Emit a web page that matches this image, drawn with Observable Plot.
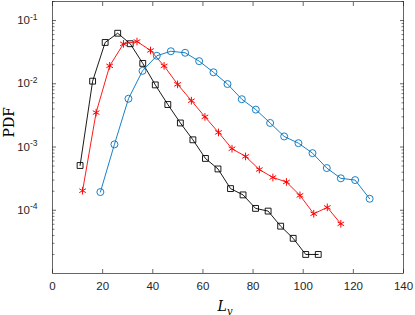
<!DOCTYPE html>
<html><head><meta charset="utf-8">
<script src="https://cdn.jsdelivr.net/npm/d3@7"></script>
<script src="https://cdn.jsdelivr.net/npm/@observablehq/plot@0.6"></script>
<style>body{margin:0;background:#fff}</style>
</head><body><div id="chart"></div>
<script>
// Series: black squares
const blackX = [11,16,21,26,31,36,41,46,51,56,61,66,71,76,81,86,91,96,101,106];
const blackY = [5.1e-4,0.011,0.045,0.063,0.043,0.021,0.0096,0.0047,0.0024,0.0013,6.6e-4,4.5e-4,2.2e-4,1.75e-4,1.07e-4,9.7e-5,5.6e-5,3.6e-5,2.0e-5,2.0e-5];
// Series: red asterisks
const redX = [12,17.4,22.8,28.3,33.7,39.1,44.5,49.9,55.4,60.8,66.2,71.6,77.0,82.5,87.9,93.3,98.7,104.2,109.6,115];
const redY = [2.04e-4,3.5e-3,0.0192,0.0428,0.0466,0.0336,0.0192,0.0098,0.0054,0.0030,0.0017,9.4e-4,7.1e-4,4.4e-4,3.3e-4,2.8e-4,1.72e-4,8.8e-5,1.11e-4,6.1e-5];
// Series: blue circles
const blueX = [19.1,24.7,30.3,35.9,41.6,47.2,52.9,58.5,64.2,69.8,75.5,81.1,86.8,92.4,98.1,103.7,109.4,115.0,120.7,126.5];
const blueY = [1.94e-4,1.1e-3,5.8e-3,0.016,0.0277,0.0327,0.0309,0.0228,0.0152,0.0099,0.0057,0.0039,0.0024,0.00147,0.00115,8.0e-4,4.65e-4,3.2e-4,3.0e-4,1.52e-4];
// Ticks
const xTicks = [0,20,40,60,80,100,120,140];
const yMajor = [1e-1,1e-2,1e-3,1e-4];
const yExp = [-1,-2,-3,-4];
const xLabel = "L";
const xLabelSub = "y";
const yLabel = "PDF";

const zip = (xs, ys) => xs.map((x, i) => ({x, y: ys[i]}));
const black = zip(blackX, blackY);
const red = zip(redX, redY);
const blue = zip(blueX, blueY);

const yMinor = [];
for (let e = -5; e <= -1; e++) for (let k = 2; k <= 9; k++) { const v = k * Math.pow(10, e); if (v <= 0.2) yMinor.push(v); }

const axisColor = "#262626";
const cBlack = "#000000", cRed = "#FF0000", cBlue = "#0072BD";
const serif = "'DejaVu Serif', 'Liberation Serif', serif";

const plot = Plot.plot({
  width: 415, height: 315,
  marginLeft: 52, marginRight: 12, marginTop: 1, marginBottom: 42,
  style: {fontFamily: "'Liberation Sans', Arial, sans-serif", fontSize: "11.5px", background: "#fff", color: axisColor},
  x: {domain: [0, 140]},
  y: {type: "log", domain: [1e-5, 0.2]},
  marks: [
    Plot.frame({stroke: axisColor, strokeWidth: 0.7}),
    Plot.axisX({anchor: "bottom", ticks: xTicks, tickSize: 4, dy: -4, tickFormat: () => "", label: null, strokeWidth: 0.7}),
    Plot.axisX({anchor: "top", ticks: xTicks, tickSize: 4, dy: 4, tickFormat: () => "", label: null, strokeWidth: 0.7}),
    Plot.axisX({anchor: "bottom", ticks: xTicks, tickSize: 0, tickPadding: 8, label: null, fill: axisColor}),
    Plot.axisY({anchor: "left", ticks: yMajor, tickSize: 4, dx: 4, tickFormat: () => "", label: null, strokeWidth: 0.7}),
    Plot.axisY({anchor: "left", ticks: yMinor, tickSize: 2.5, dx: 2.5, tickFormat: () => "", label: null, strokeWidth: 0.6}),
    Plot.axisY({anchor: "right", ticks: yMajor, tickSize: 4, dx: -4, tickFormat: () => "", label: null, strokeWidth: 0.7}),
    Plot.axisY({anchor: "right", ticks: yMinor, tickSize: 2.5, dx: -2.5, tickFormat: () => "", label: null, strokeWidth: 0.6}),
    Plot.axisY({anchor: "left", ticks: yMajor, tickSize: 0, tickPadding: 15, label: null, fill: axisColor,
      tickFormat: d => "10^" + yExp[yMajor.indexOf(d)]}),
    Plot.line(black, {x: "x", y: "y", stroke: cBlack, strokeWidth: 0.9}),
    Plot.dot(black, {x: "x", y: "y", symbol: "square", r: 3.3, stroke: cBlack, fill: "none", strokeWidth: 0.9}),
    Plot.line(red, {x: "x", y: "y", stroke: cRed, strokeWidth: 0.9}),
    Plot.dot(red, {x: "x", y: "y", symbol: "asterisk", r: 3.6, stroke: cRed, fill: "none", strokeWidth: 1}),
    Plot.line(blue, {x: "x", y: "y", stroke: cBlue, strokeWidth: 0.9}),
    Plot.dot(blue, {x: "x", y: "y", symbol: "circle", r: 3.5, stroke: cBlue, fill: "none", strokeWidth: 0.9}),
    Plot.text([xLabel], {frameAnchor: "bottom", dy: 37, dx: -3, text: d => d, fontFamily: serif, fontSize: 14, fontStyle: "italic", fill: "#000"}),
    Plot.text([yLabel], {frameAnchor: "left", dx: -43, rotate: -90, text: d => d, fontFamily: serif, fontSize: 14, fill: "#000"})
  ]
});
document.getElementById("chart").appendChild(plot);

const ns = "http://www.w3.org/2000/svg";
Array.from(plot.querySelectorAll("text")).forEach(t => {
  const s = t.textContent;
  if (s.indexOf("^") >= 0) {
    const parts = s.split("^");
    while (t.firstChild) t.removeChild(t.firstChild);
    const t1 = document.createElementNS(ns, "tspan"); t1.textContent = parts[0];
    const t2 = document.createElementNS(ns, "tspan"); t2.textContent = parts[1];
    t2.setAttribute("dy", "-0.55em"); t2.setAttribute("font-size", "8.5px");
    t.appendChild(t1); t.appendChild(t2);
  } else if (s === xLabel) {
    const sub = document.createElementNS(ns, "tspan");
    sub.textContent = xLabelSub;
    sub.setAttribute("dy", "0.3em"); sub.setAttribute("font-size", "10px");
    t.appendChild(sub);
  }
});
</script>
</body></html>
